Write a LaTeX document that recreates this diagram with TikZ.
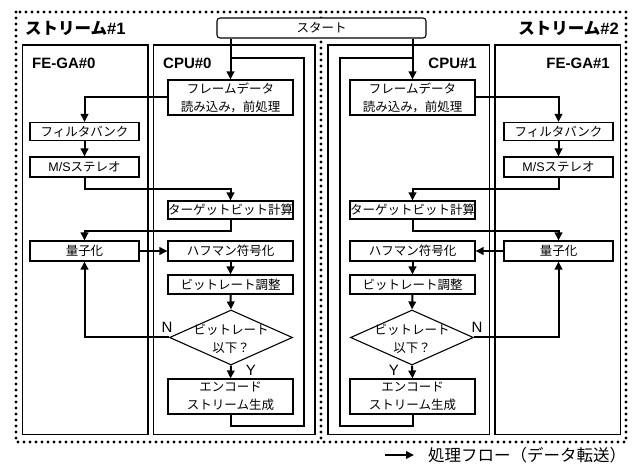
\documentclass[tikz,border=0pt]{standalone}
\usepackage{fontspec}
\setmainfont{Liberation Sans}
\newfontfamily\jp{Noto Sans CJK JP}
\usetikzlibrary{arrows.meta,shapes.geometric}

\begin{document}
\begin{tikzpicture}[x=1pt,y=-1pt,
  proc/.style={draw, line width=1.1pt, fill=white, minimum width=125pt,
    minimum height=19pt, inner sep=0pt, align=center,
    font=\jp\fontsize{12.5}{18}\selectfont},
  fgbox/.style={proc, minimum width=109pt},
  lane/.style={draw, line width=1.5pt},
  streamline/.style={draw, line width=3.3pt, line cap=round,
    dash pattern=on 0pt off 6pt},
  flow/.style={draw, line width=2pt, -{Triangle[length=8pt,width=7.5pt]}},
  loopline/.style={draw, line width=2pt},
  lanetitle/.style={font=\bfseries\fontsize{15}{15}\selectfont, inner sep=0pt},
  streamtitle/.style={font=\bfseries\fontsize{16.5}{16.5}\selectfont, inner sep=0pt},
  yn/.style={font=\fontsize{15}{15}\selectfont, inner sep=0pt},
  decision/.style={diamond, draw, line width=1.1pt, fill=white,
    minimum width=123pt, minimum height=55pt, inner sep=0pt},
  dtext/.style={align=center, inner sep=0pt, font=\jp\fontsize{12.5}{18}\selectfont}
]
\useasboundingbox (0,0) rectangle (633,468);

% two streams, dotted outline with shared middle edge
\path[streamline] (16,12) rectangle (626,442);
\path[streamline] (321,12) -- (321,442);

% swim lanes
\path[lane] (22.5,45) rectangle (148,434.5);
\path[lane] (153.5,45) rectangle (315,434.5);
\path[lane] (328,45) rectangle (489.5,434.5);
\path[lane] (495,45) rectangle (620.5,434.5);

% titles
\node[streamtitle, anchor=west] (s1) at (25,28) {\jp ストリーム\rmfamily\#1};
\node[streamtitle, anchor=east] (s2) at (619,28) {\jp ストリーム\rmfamily\#2};
\node[lanetitle, anchor=west] (fg0t) at (32,63) {FE-GA\#0};
\node[lanetitle, anchor=west] (cpu0t) at (163,63) {CPU\#0};
\node[lanetitle, anchor=east] (cpu1t) at (477,63) {CPU\#1};
\node[lanetitle, anchor=east] (fg1t) at (610,63) {FE-GA\#1};

% start
\node[proc, rounded corners=3pt, minimum width=209pt, minimum height=20pt] (start) at (321.5,28) {スタート};

% ---------- stream 1 ----------
\node[proc, minimum height=35pt] (frame0) at (230.5,97.5) {フレームデータ\\読み込み，前処理};
\node[fgbox, minimum height=18pt] (filt0) at (84.5,131.5) {フィルタバンク};
\node[fgbox, minimum height=20pt] (ms0) at (84.5,167) {{\rmfamily M/S}ステレオ};
\node[proc, minimum height=18pt] (tgt0) at (230.5,210) {ターゲットビット計算};
\node[fgbox, minimum height=20pt] (q0) at (84.5,251) {量子化};
\node[proc, minimum height=20pt] (hf0) at (230.5,251) {ハフマン符号化};
\node[proc, minimum height=19pt] (br0) at (230.5,284.5) {ビットレート調整};
\node[decision] (dia0) at (231,337.5) {};
\node[dtext] (dia0t) at (231,339) {ビットレート\\以下？};
\node[proc, minimum height=35pt] (enc0) at (230.5,396.5) {エンコード\\ストリーム生成};
\coordinate (loop0a) at (304,426);
\coordinate (loop0b) at (231,58);

\draw[flow] (start.south -| frame0.north) -- (frame0.north);
\draw[loopline] (enc0.south) |- (loop0a) |- (loop0b);
\draw[flow] (frame0.west) -| (filt0.north);
\draw[flow] (filt0) -- (ms0);
\draw[flow] (ms0.south) -- ++(0,11) -| (tgt0.north);
\draw[flow] (tgt0.south) -- ++(0,11) -| (q0.north);
\draw[flow] (q0.east) -- (hf0.west);
\draw[flow] (hf0) -- (br0);
\draw[flow] (br0.south) -- (dia0.north);
\draw[flow] (dia0.south) -- (enc0.north);
\draw[flow] (dia0.west) -| (q0.south);
\node[yn] (n0) at (167,327) {N};
\node[yn] (y0) at (251,370) {Y};

% ---------- stream 2 ----------
\node[proc, minimum height=35pt] (frame1) at (412.5,97.5) {フレームデータ\\読み込み，前処理};
\node[fgbox, minimum height=18pt] (filt1) at (558.5,131.5) {フィルタバンク};
\node[fgbox, minimum height=20pt] (ms1) at (558.5,167) {{\rmfamily M/S}ステレオ};
\node[proc, minimum height=18pt] (tgt1) at (412.5,210) {ターゲットビット計算};
\node[fgbox, minimum height=20pt] (q1) at (558.5,251) {量子化};
\node[proc, minimum height=20pt] (hf1) at (412.5,251) {ハフマン符号化};
\node[proc, minimum height=19pt] (br1) at (412.5,284.5) {ビットレート調整};
\node[decision] (dia1) at (412,337.5) {};
\node[dtext] (dia1t) at (412,339) {ビットレート\\以下？};
\node[proc, minimum height=35pt] (enc1) at (412.5,396.5) {エンコード\\ストリーム生成};
\coordinate (loop1a) at (339.5,426);
\coordinate (loop1b) at (412,58);

\draw[flow] (start.south -| frame1.north) -- (frame1.north);
\draw[loopline] (enc1.south) |- (loop1a) |- (loop1b);
\draw[flow] (frame1.east) -| (filt1.north);
\draw[flow] (filt1) -- (ms1);
\draw[flow] (ms1.south) -- ++(0,11) -| (tgt1.north);
\draw[flow] (tgt1.south) -- ++(0,11) -| (q1.north);
\draw[flow] (q1.west) -- (hf1.east);
\draw[flow] (hf1) -- (br1);
\draw[flow] (br1.south) -- (dia1.north);
\draw[flow] (dia1.south) -- (enc1.north);
\draw[flow] (dia1.east) -| (q1.south);
\node[yn] (n1) at (477,327) {N};
\node[yn] (y1) at (394,370) {Y};

% legend
\coordinate (lgA) at (385,455);
\coordinate (lgB) at (414,455);
\draw[flow] (lgA) -- (lgB);
\node[anchor=west, inner sep=0pt, font=\jp\fontsize{16.5}{16.5}\selectfont] (lgt) at (428,455) {処理フロー（データ転送）};
\end{tikzpicture}
\end{document}
